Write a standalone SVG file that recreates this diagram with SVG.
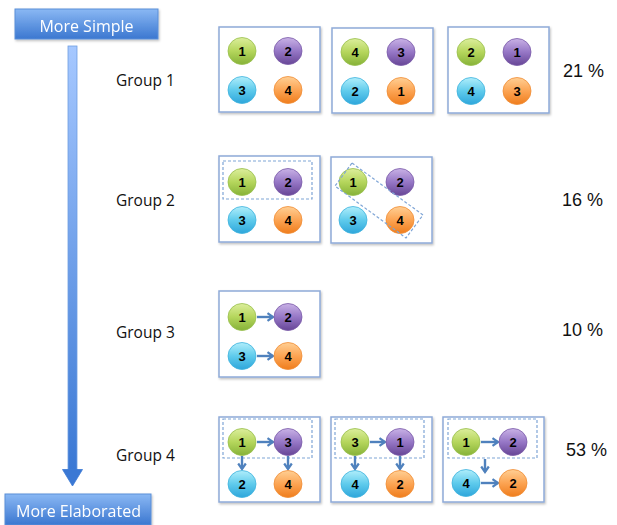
<svg xmlns="http://www.w3.org/2000/svg" width="617" height="525" viewBox="0 0 617 525">
  <defs>
    <linearGradient id="btn" x1="0" y1="0" x2="0" y2="1">
      <stop offset="0" stop-color="#8ab8f4"/>
      <stop offset="1" stop-color="#3b77d0"/>
    </linearGradient>
    <linearGradient id="shaft" x1="0" y1="0" x2="0" y2="1">
      <stop offset="0" stop-color="#a6c8ff"/>
      <stop offset="1" stop-color="#3a78d4"/>
    </linearGradient>
    <linearGradient id="gGreen" x1="0" y1="0" x2="0" y2="1">
      <stop offset="0" stop-color="#dcee9c"/>
      <stop offset="0.5" stop-color="#b5d65c"/>
      <stop offset="1" stop-color="#86b238"/>
    </linearGradient>
    <linearGradient id="gPurple" x1="0" y1="0" x2="0" y2="1">
      <stop offset="0" stop-color="#c9b2e6"/>
      <stop offset="0.5" stop-color="#9677c6"/>
      <stop offset="1" stop-color="#674696"/>
    </linearGradient>
    <linearGradient id="gCyan" x1="0" y1="0" x2="0" y2="1">
      <stop offset="0" stop-color="#b0eefb"/>
      <stop offset="0.5" stop-color="#5fcbec"/>
      <stop offset="1" stop-color="#2ea6db"/>
    </linearGradient>
    <linearGradient id="gOrange" x1="0" y1="0" x2="0" y2="1">
      <stop offset="0" stop-color="#ffcf94"/>
      <stop offset="0.5" stop-color="#fca453"/>
      <stop offset="1" stop-color="#ef7d1d"/>
    </linearGradient>
    <filter id="shadow" x="-10%" y="-10%" width="130%" height="130%">
      <feDropShadow dx="1" dy="1.5" stdDeviation="1" flood-color="#000" flood-opacity="0.25"/>
    </filter>
    <marker id="head" viewBox="0 0 10 10" refX="8" refY="5" markerWidth="10" markerHeight="10" markerUnits="userSpaceOnUse" orient="auto">
      <path d="M2.5,1.2 L8,5 L2.5,8.8" fill="none" stroke="#4f81bd" stroke-width="2.2" stroke-linejoin="miter"/>
    </marker>
  </defs>
  <style>
    .btn { fill: url(#btn); stroke: #5a8fd8; stroke-width: 1; }
    .btnText { font-family: "Open Sans", "Liberation Sans", sans-serif; font-size: 16px; fill: #ffffff; text-anchor: middle; }
    .label { font-family: "Open Sans", "Liberation Sans", sans-serif; font-size: 15.5px; fill: #111111; }
    .pct { font-family: "Liberation Sans", Arial, sans-serif; font-size: 18px; fill: #111111; }
    .panel { fill: #ffffff; stroke: #8eaad8; stroke-width: 1.5; }
    .dash { fill: none; stroke: #7fa5d6; stroke-width: 1.2; stroke-dasharray: 3 2; }
    .num { font-family: "Liberation Sans", Arial, sans-serif; font-size: 13px; font-weight: bold; fill: #000000; text-anchor: middle; }
    .green { fill: url(#gGreen); stroke: #98bf4c; stroke-width: 0.8; }
    .purple { fill: url(#gPurple); stroke: #7a5aa8; stroke-width: 0.8; }
    .cyan { fill: url(#gCyan); stroke: #3fb2dd; stroke-width: 0.8; }
    .orange { fill: url(#gOrange); stroke: #f08d35; stroke-width: 0.8; }
    .link { stroke: #4f81bd; stroke-width: 2.4; fill: none; marker-end: url(#head); }
  </style>

  <!-- Scale from simple to elaborated -->
  <g id="more-simple" filter="url(#shadow)">
    <rect class="btn" x="15" y="9" width="143" height="30"/>
    <text class="btnText" x="86.5" y="32">More Simple</text>
  </g>
  <g id="scale-arrow">
    <rect x="68" y="46" width="9" height="424" fill="url(#shaft)" stroke="#6f9fe2" stroke-width="0.8"/>
    <polygon points="62.5,469.5 82.5,469.5 72.5,486" fill="#3a78d4" stroke="#3a78d4" stroke-width="0.8"/>
  </g>
  <g id="more-elaborated" filter="url(#shadow)">
    <rect class="btn" x="5" y="494" width="146" height="31"/>
    <text class="btnText" x="78.5" y="517">More Elaborated</text>
  </g>

  <!-- Row labels and shares -->
  <g id="group-1-label"><text class="label" x="116" y="86">Group 1</text></g>
  <g id="group-2-label"><text class="label" x="116" y="206">Group 2</text></g>
  <g id="group-3-label"><text class="label" x="116" y="338">Group 3</text></g>
  <g id="group-4-label"><text class="label" x="116" y="461">Group 4</text></g>
  <g id="pct-1"><text class="pct" x="563" y="77">21 %</text></g>
  <g id="pct-2"><text class="pct" x="562" y="206">16 %</text></g>
  <g id="pct-3"><text class="pct" x="562" y="336">10 %</text></g>
  <g id="pct-4"><text class="pct" x="566" y="456">53 %</text></g>

  <!-- Panels -->
  <g id="panels" filter="url(#shadow)">
    <rect class="panel" x="219" y="27" width="101" height="85"/>
    <rect class="panel" x="332" y="28" width="101" height="85"/>
    <rect class="panel" x="448" y="27" width="101" height="86"/>
    <rect class="panel" x="219" y="156" width="101" height="86"/>
    <rect class="panel" x="331" y="157" width="101" height="86"/>
    <rect class="panel" x="219" y="291" width="101" height="86"/>
    <rect class="panel" x="219" y="417" width="101" height="85"/>
    <rect class="panel" x="331" y="417" width="101" height="85"/>
    <rect class="panel" x="443" y="417" width="101" height="85"/>
  </g>

  <!-- Dashed groupings (axis-aligned) -->
  <g id="groupings">
    <rect class="dash" x="223" y="161" width="89" height="38"/>
    <rect class="dash" x="223" y="419" width="89" height="39"/>
    <rect class="dash" x="335" y="419" width="89" height="39"/>
    <rect class="dash" x="448" y="419" width="89" height="39"/>
  </g>

  <!-- Connectors -->
  <g id="connectors">
    <line class="link" x1="257" y1="317" x2="273" y2="317"/>
    <line class="link" x1="257" y1="356" x2="273" y2="356"/>
    <line class="link" x1="257" y1="442" x2="273" y2="442"/>
    <line class="link" x1="242" y1="456" x2="242" y2="469"/>
    <line class="link" x1="288" y1="456" x2="288" y2="469"/>
    <line class="link" x1="370" y1="442" x2="385" y2="442"/>
    <line class="link" x1="355" y1="456" x2="355" y2="469"/>
    <line class="link" x1="400" y1="456" x2="400" y2="469"/>
    <line class="link" x1="481" y1="442" x2="498" y2="442"/>
    <line class="link" x1="485" y1="459" x2="485" y2="472"/>
    <line class="link" x1="481" y1="483" x2="498" y2="483"/>
  </g>

  <!-- Group 1, panel A -->
  <g id="g1a-n1"><ellipse class="green" cx="242" cy="51" rx="14" ry="13.5"/><text class="num" x="242" y="55.5">1</text></g>
  <g id="g1a-n2"><ellipse class="purple" cx="288" cy="51" rx="14" ry="13.5"/><text class="num" x="288" y="55.5">2</text></g>
  <g id="g1a-n3"><ellipse class="cyan" cx="242" cy="90" rx="14" ry="13.5"/><text class="num" x="242" y="94.5">3</text></g>
  <g id="g1a-n4"><ellipse class="orange" cx="288" cy="90" rx="14" ry="13.5"/><text class="num" x="288" y="94.5">4</text></g>
  <!-- Group 1, panel B -->
  <g id="g1b-n4"><ellipse class="green" cx="355" cy="52" rx="14" ry="13.5"/><text class="num" x="355" y="56.5">4</text></g>
  <g id="g1b-n3"><ellipse class="purple" cx="401" cy="52" rx="14" ry="13.5"/><text class="num" x="401" y="56.5">3</text></g>
  <g id="g1b-n2"><ellipse class="cyan" cx="355" cy="91" rx="14" ry="13.5"/><text class="num" x="355" y="95.5">2</text></g>
  <g id="g1b-n1"><ellipse class="orange" cx="401" cy="91" rx="14" ry="13.5"/><text class="num" x="401" y="95.5">1</text></g>
  <!-- Group 1, panel C -->
  <g id="g1c-n2"><ellipse class="green" cx="471" cy="52" rx="14" ry="13.5"/><text class="num" x="471" y="56.5">2</text></g>
  <g id="g1c-n1"><ellipse class="purple" cx="517" cy="52" rx="14" ry="13.5"/><text class="num" x="517" y="56.5">1</text></g>
  <g id="g1c-n4"><ellipse class="cyan" cx="471" cy="91" rx="14" ry="13.5"/><text class="num" x="471" y="95.5">4</text></g>
  <g id="g1c-n3"><ellipse class="orange" cx="517" cy="91" rx="14" ry="13.5"/><text class="num" x="517" y="95.5">3</text></g>

  <!-- Group 2, panel A -->
  <g id="g2a-n1"><ellipse class="green" cx="242" cy="182" rx="14" ry="13.5"/><text class="num" x="242" y="186.5">1</text></g>
  <g id="g2a-n2"><ellipse class="purple" cx="288" cy="182" rx="14" ry="13.5"/><text class="num" x="288" y="186.5">2</text></g>
  <g id="g2a-n3"><ellipse class="cyan" cx="242" cy="220" rx="14" ry="13.5"/><text class="num" x="242" y="224.5">3</text></g>
  <g id="g2a-n4"><ellipse class="orange" cx="288" cy="220" rx="14" ry="13.5"/><text class="num" x="288" y="224.5">4</text></g>
  <!-- Group 2, panel B -->
  <g id="g2b-n1"><ellipse class="green" cx="353" cy="182" rx="14" ry="13.5"/><text class="num" x="353" y="186.5">1</text></g>
  <g id="g2b-n2"><ellipse class="purple" cx="400" cy="182" rx="14" ry="13.5"/><text class="num" x="400" y="186.5">2</text></g>
  <g id="g2b-n3"><ellipse class="cyan" cx="353" cy="220" rx="14" ry="13.5"/><text class="num" x="353" y="224.5">3</text></g>
  <g id="g2b-n4"><ellipse class="orange" cx="400" cy="220" rx="14" ry="13.5"/><text class="num" x="400" y="224.5">4</text></g>
  <!-- Diagonal grouping drawn over nodes 1 and 4 -->
  <g id="diagonal-grouping">
    <polygon class="dash" points="352,163 423,215 406,238 335,186"/>
  </g>

  <!-- Group 3 -->
  <g id="g3-n1"><ellipse class="green" cx="242" cy="317" rx="14" ry="13.5"/><text class="num" x="242" y="321.5">1</text></g>
  <g id="g3-n2"><ellipse class="purple" cx="288" cy="317" rx="14" ry="13.5"/><text class="num" x="288" y="321.5">2</text></g>
  <g id="g3-n3"><ellipse class="cyan" cx="242" cy="356" rx="14" ry="13.5"/><text class="num" x="242" y="360.5">3</text></g>
  <g id="g3-n4"><ellipse class="orange" cx="288" cy="356" rx="14" ry="13.5"/><text class="num" x="288" y="360.5">4</text></g>

  <!-- Group 4, panel A -->
  <g id="g4a-n1"><ellipse class="green" cx="242" cy="442" rx="14" ry="13.5"/><text class="num" x="242" y="446.5">1</text></g>
  <g id="g4a-n3"><ellipse class="purple" cx="288" cy="442" rx="14" ry="13.5"/><text class="num" x="288" y="446.5">3</text></g>
  <g id="g4a-n2"><ellipse class="cyan" cx="242" cy="484" rx="14" ry="13.5"/><text class="num" x="242" y="488.5">2</text></g>
  <g id="g4a-n4"><ellipse class="orange" cx="288" cy="484" rx="14" ry="13.5"/><text class="num" x="288" y="488.5">4</text></g>
  <!-- Group 4, panel B -->
  <g id="g4b-n3"><ellipse class="green" cx="355" cy="442" rx="14" ry="13.5"/><text class="num" x="355" y="446.5">3</text></g>
  <g id="g4b-n1"><ellipse class="purple" cx="400" cy="442" rx="14" ry="13.5"/><text class="num" x="400" y="446.5">1</text></g>
  <g id="g4b-n4"><ellipse class="cyan" cx="355" cy="484" rx="14" ry="13.5"/><text class="num" x="355" y="488.5">4</text></g>
  <g id="g4b-n2"><ellipse class="orange" cx="400" cy="484" rx="14" ry="13.5"/><text class="num" x="400" y="488.5">2</text></g>
  <!-- Group 4, panel C -->
  <g id="g4c-n1"><ellipse class="green" cx="466" cy="442" rx="14" ry="13.5"/><text class="num" x="466" y="446.5">1</text></g>
  <g id="g4c-n2a"><ellipse class="purple" cx="513" cy="442" rx="14" ry="13.5"/><text class="num" x="513" y="446.5">2</text></g>
  <g id="g4c-n4"><ellipse class="cyan" cx="466" cy="483" rx="14" ry="13.5"/><text class="num" x="466" y="487.5">4</text></g>
  <g id="g4c-n2b"><ellipse class="orange" cx="513" cy="483" rx="14" ry="13.5"/><text class="num" x="513" y="487.5">2</text></g>
</svg>
